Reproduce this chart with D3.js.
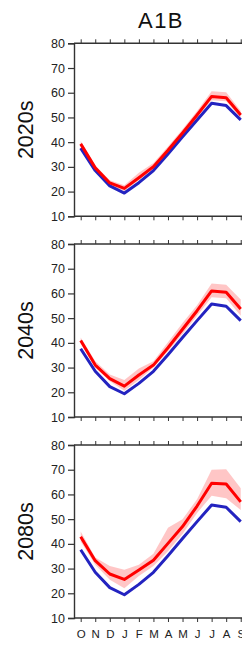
<!DOCTYPE html>
<html>
<head>
    <meta charset="utf-8">
    <title>A1B</title>
    <script src="https://d3js.org/d3.v7.min.js"></script>
    <style>
        body { margin: 0; background: #fff; }
        svg { display: block; font-family: "Liberation Sans", Arial, sans-serif; }
    </style>
</head>
<body>
    <div id="chart"></div>
    <script>
        // months from October to September
        var months = ["O", "N", "D", "J", "F", "M", "A", "M", "J", "J", "A", "S"];
        var yTicks = [10, 20, 30, 40, 50, 60, 70, 80];
        var periods = ["2020s", "2040s", "2080s"];

        // baseline (blue), same in every panel
        var baseline = [37.6, 28.5, 22.3, 19.4, 23.6, 28.5, 35.2, 42.2, 49.0, 55.7, 54.8, 49.0];

        // future (red) means
        var mean2020 = [39.3, 29.6, 23.5, 21.3, 25.6, 30.1, 36.7, 43.7, 51.0, 58.5, 58.0, 51.0];
        var mean2040 = [41.0, 31.0, 25.5, 22.5, 27.0, 31.0, 38.0, 45.5, 53.0, 61.0, 60.5, 53.7];
        var mean2080 = [42.9, 33.2, 27.8, 25.6, 29.4, 33.4, 40.2, 47.0, 55.3, 64.5, 64.2, 57.0];

        // spread (pink band)
        var upper2020 = [40.5, 30.6, 24.6, 22.6, 27.6, 31.6, 38.2, 45.2, 52.6, 60.6, 60.2, 52.6];
        var lower2020 = [38.4, 28.6, 22.6, 20.1, 24.6, 29.0, 35.6, 42.6, 50.0, 57.0, 56.6, 49.8];
        var upper2040 = [42.2, 32.6, 27.2, 25.0, 29.6, 32.6, 40.2, 48.0, 55.2, 64.0, 63.5, 57.5];
        var lower2040 = [40.0, 30.0, 24.5, 20.6, 25.0, 30.0, 36.6, 43.6, 51.0, 58.5, 58.0, 51.0];
        var upper2080 = [45.0, 34.5, 31.0, 29.5, 31.5, 36.0, 46.5, 50.0, 58.0, 70.0, 70.2, 62.5];
        var lower2080 = [41.0, 31.5, 25.5, 22.0, 27.0, 31.0, 37.0, 44.0, 52.5, 59.5, 58.5, 53.7];

        var panels = [
            { label: periods[0], mean: mean2020, upper: upper2020, lower: lower2020 },
            { label: periods[1], mean: mean2040, upper: upper2040, lower: lower2040 },
            { label: periods[2], mean: mean2080, upper: upper2080, lower: lower2080 }
        ];

        var W = 242, H = 645;
        var svg = d3.select("#chart").append("svg").attr("width", W).attr("height", H);

        svg.append("text")
            .attr("x", 161).attr("y", 28)
            .attr("text-anchor", "middle")
            .style("font-size", "22px")
            .style("letter-spacing", "1.5px")
            .attr("fill", "#111")
            .text("A1B");

        var left = 74, plotW = 174, plotH = 173;
        var panelTops = [43.3, 244, 445];

        var x = d3.scaleLinear().domain([-0.46, 11.5]).range([0, plotW]);
        var y = d3.scaleLinear().domain([10, 80]).range([plotH, 0]);
        var idx = d3.range(months.length);

        panels.forEach(function (p, k) {
            var g = svg.append("g").attr("transform", "translate(" + left + "," + panelTops[k] + ")");

            // band
            var area = d3.area()
                .x(function (i) { return x(i); })
                .y0(function (i) { return y(p.lower[i]); })
                .y1(function (i) { return y(p.upper[i]); });
            g.append("path").datum(idx)
                .attr("d", area)
                .attr("fill", "#ffbcbc")
                .attr("opacity", 0.85);

            var line = function (arr) {
                return d3.line().x(function (i) { return x(i); }).y(function (i) { return y(arr[i]); })(idx);
            };
            g.append("path").attr("d", line(baseline))
                .attr("fill", "none").attr("stroke", "#2323c0").attr("stroke-width", 3)
                .attr("stroke-linejoin", "round");
            g.append("path").attr("d", line(p.mean))
                .attr("fill", "none").attr("stroke", "#ff0000").attr("stroke-width", 3)
                .attr("stroke-linejoin", "round");

            // left axis
            var yAxis = g.append("g")
                .call(d3.axisLeft(y).tickValues(yTicks).tickSize(6).tickPadding(3));
            yAxis.select(".domain").attr("stroke", "#333").attr("stroke-width", 1.4);
            yAxis.selectAll(".tick line").attr("stroke", "#333").attr("stroke-width", 1.2);
            yAxis.selectAll("text").attr("fill", "#222").style("font-size", "12.5px")
                .style("font-family", "'Liberation Sans', Arial, sans-serif");

            // top axis
            var topAxis = g.append("g")
                .call(d3.axisTop(x).tickValues(idx).tickSize(4).tickFormat(""));
            topAxis.select(".domain").attr("d", "M0,0H" + plotW).attr("stroke", "#333").attr("stroke-width", 1.4);
            topAxis.selectAll(".tick line").attr("stroke", "#333");

            // bottom axis
            var bottomAxis = g.append("g")
                .attr("transform", "translate(0," + plotH + ")")
                .call(d3.axisBottom(x).tickValues(idx).tickSize(4)
                    .tickFormat(k === 2 ? function (i) { return months[i]; } : ""));
            bottomAxis.select(".domain").attr("d", "M0,0H" + plotW).attr("stroke", "#333").attr("stroke-width", 1.4);
            bottomAxis.selectAll(".tick line").attr("stroke", "#333");
            bottomAxis.selectAll("text").attr("fill", "#222").attr("dy", "1.1em")
                .style("font-size", "11.5px")
                .style("font-family", "'Liberation Sans', Arial, sans-serif");

            // row label
            svg.append("text")
                .attr("transform", "translate(33," + (panelTops[k] + plotH / 2) + ") rotate(-90)")
                .attr("text-anchor", "middle")
                .style("font-size", "21.5px")
                .attr("fill", "#111")
                .text(p.label);
        });
    </script>
</body>
</html>
